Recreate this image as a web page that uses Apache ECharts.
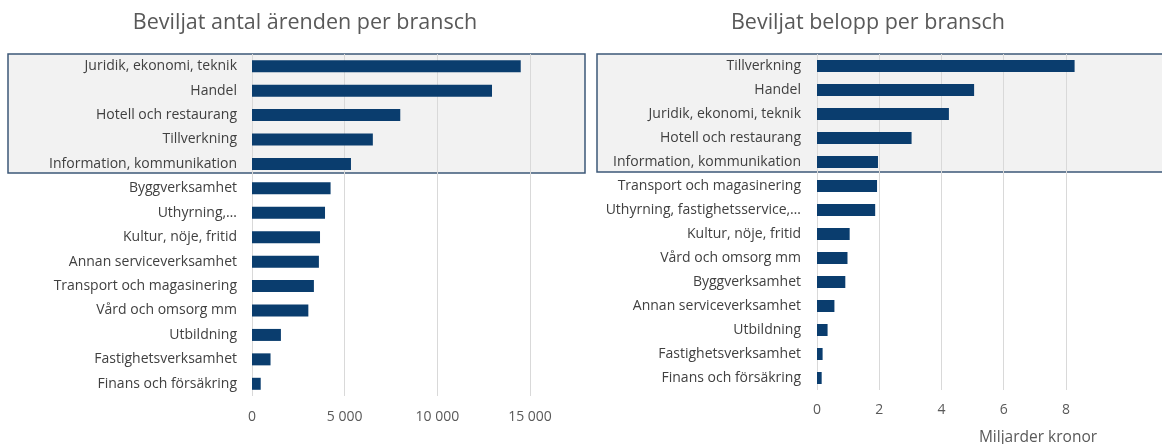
<!DOCTYPE html>
<html>
<head>
<meta charset="utf-8">
<script src="https://cdn.jsdelivr.net/npm/echarts@6/dist/echarts.min.js"></script>
<style>
  html, body { margin: 0; background: #fff; }
  #chart { width: 1162px; height: 444px; }
</style>
</head>
<body>
<div id="chart"></div>
<script>
// antal ärenden (left)
const caseCategories = [
  "Juridik, ekonomi, teknik", "Handel", "Hotell och restaurang", "Tillverkning",
  "Information, kommunikation", "Byggverksamhet", "Uthyrning,…", "Kultur, nöje, fritid",
  "Annan serviceverksamhet", "Transport och magasinering", "Vård och omsorg mm",
  "Utbildning", "Fastighetsverksamhet", "Finans och försäkring"
];
const caseValues = [14500, 12950, 8000, 6520, 5340, 4240, 3940, 3670, 3610, 3340, 3040, 1560, 1000, 470];

// belopp, miljarder kronor (right)
const amountCategories = [
  "Tillverkning", "Handel", "Juridik, ekonomi, teknik", "Hotell och restaurang",
  "Information, kommunikation", "Transport och magasinering", "Uthyrning, fastighetsservice,…",
  "Kultur, nöje, fritid", "Vård och omsorg mm", "Byggverksamhet", "Annan serviceverksamhet",
  "Utbildning", "Fastighetsverksamhet", "Finans och försäkring"
];
const amountValues = [8.28, 5.05, 4.24, 3.04, 1.96, 1.93, 1.87, 1.05, 0.98, 0.91, 0.56, 0.34, 0.18, 0.15];

const FONT = "Open Sans";
const BAR = "#0a3d6e";
const GRID_LINE = "#d9d9d9";

function spaced(v) {
  return String(v).replace(/\B(?=(\d{3})+(?!\d))/g, " ");
}

const chart = echarts.init(document.getElementById("chart"));

const catAxis = (idx, data, margin) => ({
  type: "category",
  gridIndex: idx,
  data: data,
  inverse: true,
  axisLine: { show: false },
  axisTick: { show: false },
  axisLabel: { color: "#404040", fontSize: 14, fontFamily: FONT, margin: margin }
});

const valAxis = (idx, max, interval, fmt, showMax, margin) => ({
  type: "value",
  gridIndex: idx,
  min: 0,
  max: max,
  interval: interval,
  axisLine: { show: false },
  axisTick: { show: false },
  splitLine: { show: true, showMaxLine: showMax, lineStyle: { color: GRID_LINE, width: 1 } },
  axisLabel: { color: "#595959", fontSize: 14, fontFamily: FONT, margin: margin, showMaxLabel: showMax, formatter: fmt }
});

chart.setOption({
  animation: false,
  textStyle: { fontFamily: FONT },
  title: [
    { text: "Beviljat antal ärenden per bransch", left: 300, top: 7, textAlign: "center",
      textStyle: { fontSize: 21.5, fontWeight: "normal", color: "#595959", fontFamily: FONT } },
    { text: "Beviljat belopp per bransch", left: 863, top: 7, textAlign: "center",
      textStyle: { fontSize: 21.5, fontWeight: "normal", color: "#595959", fontFamily: FONT } },
    { text: "Miljarder kronor", left: 1033, top: 425, textAlign: "center",
      textStyle: { fontSize: 15.5, fontWeight: "normal", color: "#595959", fontFamily: FONT } }
  ],
  graphic: [
    { type: "rect", z: -10, shape: { x: 8, y: 54, width: 577, height: 119 },
      style: { fill: "#f2f2f2", stroke: "#3c5878", lineWidth: 1.5 } },
    { type: "rect", z: -10, shape: { x: 597, y: 54, width: 570, height: 118 },
      style: { fill: "#f2f2f2", stroke: "#3c5878", lineWidth: 1.5 } }
  ],
  grid: [
    { left: 252, right: 632, top: 54, bottom: 48 },
    { left: 817, right: 65, top: 54, bottom: 54 }
  ],
  xAxis: [
    valAxis(0, 15000, 5000, v => spaced(v), true, 14),
    valAxis(1, 9, 2, v => String(v), false, 13)
  ],
  yAxis: [
    catAxis(0, caseCategories, 15),
    catAxis(1, amountCategories, 16)
  ],
  series: [
    { type: "bar", xAxisIndex: 0, yAxisIndex: 0, data: caseValues,
      barWidth: 12, itemStyle: { color: BAR } },
    { type: "bar", xAxisIndex: 1, yAxisIndex: 1, data: amountValues,
      barWidth: 12, itemStyle: { color: BAR } }
  ]
});
</script>
</body>
</html>
